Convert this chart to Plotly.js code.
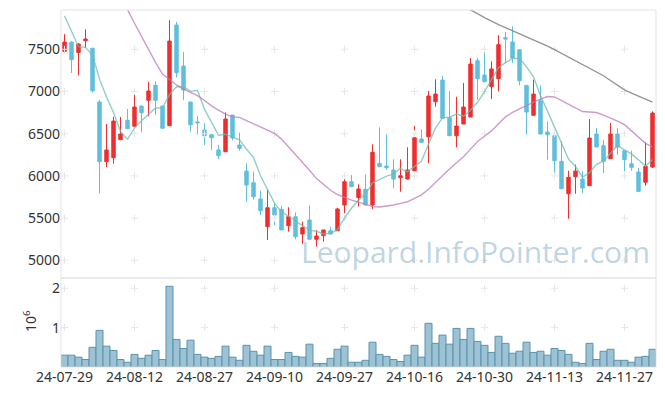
<!DOCTYPE html>
<html>
<head>
<meta charset="utf-8">
<script src="https://cdn.plot.ly/plotly-3.0.1.min.js"></script>
<style>html,body{margin:0;padding:0;background:#fff;}#chart{width:665px;height:396px;}</style>
</head>
<body>
<div id="chart"></div>
<script>
// Trading days (categorical axis)
const dates = [
'2024-07-29','2024-07-30','2024-07-31','2024-08-01','2024-08-02','2024-08-05','2024-08-06','2024-08-07','2024-08-08','2024-08-09',
'2024-08-12','2024-08-13','2024-08-14','2024-08-16','2024-08-19','2024-08-20','2024-08-21','2024-08-22','2024-08-23','2024-08-26',
'2024-08-27','2024-08-28','2024-08-29','2024-08-30','2024-09-02','2024-09-03','2024-09-04','2024-09-05','2024-09-06','2024-09-09',
'2024-09-10','2024-09-11','2024-09-12','2024-09-13','2024-09-19','2024-09-20','2024-09-23','2024-09-24','2024-09-25','2024-09-26',
'2024-09-27','2024-09-30','2024-10-02','2024-10-04','2024-10-07','2024-10-08','2024-10-10','2024-10-11','2024-10-14','2024-10-15',
'2024-10-16','2024-10-17','2024-10-18','2024-10-21','2024-10-22','2024-10-23','2024-10-24','2024-10-25','2024-10-28','2024-10-29',
'2024-10-30','2024-10-31','2024-11-01','2024-11-04','2024-11-05','2024-11-06','2024-11-07','2024-11-08','2024-11-11','2024-11-12',
'2024-11-13','2024-11-14','2024-11-15','2024-11-18','2024-11-19','2024-11-20','2024-11-21','2024-11-22','2024-11-25','2024-11-26',
'2024-11-27','2024-11-28','2024-11-29','2024-12-02','2024-12-03'];

const open = [
7476,7586,7462,7602,7512,6876,6168,6215,6429,6659,
6588,6828,6896,7073,6828,6595,7788,7302,6876,6640,
6544,6488,6307,6287,6721,6366,6058,5919,5726,5398,
5623,5604,5410,5516,5311,5477,5249,5291,5350,5350,
5655,5931,5744,5841,5655,6149,6117,6070,5979,5963,
6061,6437,6464,6879,7136,6690,6476,6615,6698,7365,
7195,7057,7152,7637,7587,7495,7073,6718,6891,6520,
6476,6173,5789,5990,5963,5884,6496,6358,6204,6496,
6298,6144,6046,5924,6105];
const high = [
7680,7590,7570,7737,7520,6900,6615,6700,6698,6793,
6994,6830,7113,7121,6828,7847,7823,7468,6876,6710,
6623,6490,6366,6753,6721,6512,6149,6050,5824,5833,
5675,5643,5628,5568,5457,5651,5359,5359,5398,5623,
5999,6010,5900,6019,6374,6576,6493,6196,6196,6339,
6591,6552,7006,7145,7184,7006,6938,7101,7397,7397,
7543,7358,7666,7705,7773,7495,7073,7140,7073,6647,
6476,6410,6061,6133,6054,6674,6567,6422,6627,6567,
6298,6298,6093,6398,6765];
const low = [
7455,7219,7190,7515,6988,5794,6102,6144,6429,6559,
6588,6516,6706,6725,6564,6595,7168,6899,6524,6493,
6366,6307,6200,6280,6422,6298,5694,5722,5536,5240,
5418,5359,5339,5249,5193,5249,5161,5220,5311,5350,
5557,5872,5637,5655,5604,6109,6070,5853,5813,5960,
6061,6398,6149,6820,6682,6476,6339,6615,6698,6903,
7116,6911,7002,7338,7338,7073,6488,6718,6496,6192,
6007,5848,5493,5789,5797,5880,6342,6034,6204,6251,
6054,6061,5809,5884,6093];
const close = [
7586,7377,7563,7622,7009,6168,6307,6650,6496,6559,
6816,6749,7006,6896,6564,7598,7223,7018,6606,6630,
6476,6452,6239,6674,6449,6327,5892,5753,5587,5623,
5536,5359,5516,5279,5386,5249,5288,5359,5311,5608,
5931,5872,5845,5655,6279,6109,6097,5963,6002,6070,
6452,6398,6947,6970,6682,6476,6591,6816,7326,7152,
7116,7267,7555,7622,7397,7128,6757,6970,6496,6488,
6180,5848,5983,6057,5856,6449,6342,6173,6496,6342,
6192,6102,5817,6113,6745];

const volume = [
300000,300000,250000,190000,500000,930000,530000,420000,190000,120000,
320000,220000,300000,420000,190000,2050000,700000,470000,680000,320000,
250000,220000,270000,530000,250000,170000,550000,400000,300000,530000,
190000,190000,370000,270000,250000,580000,90000,90000,220000,450000,
530000,120000,120000,170000,630000,320000,270000,190000,140000,300000,
550000,250000,1110000,600000,810000,580000,980000,700000,980000,650000,
550000,370000,780000,600000,350000,400000,630000,370000,400000,300000,
470000,420000,320000,120000,90000,600000,190000,400000,450000,170000,
170000,120000,250000,270000,450000];

// Moving averages
const ma5 = [
7898,7709,7531,7524,7431,7148,6934,6751,6526,6436,
6566,6654,6725,6805,6806,6963,7057,7060,7002,7015,
6791,6636,6481,6494,6458,6428,6316,6219,6002,5836,
5678,5572,5524,5463,5415,5358,5344,5312,5319,5363,
5499,5616,5713,5782,5916,5952,5997,6021,6090,6048,
6117,6177,6374,6567,6690,6695,6733,6707,6778,6872,
7000,7135,7283,7342,7391,7394,7292,7175,6950,6768,
6578,6396,6199,6111,5985,6039,6137,6175,6263,6360,
6309,6261,6190,6113,6194];
const ma20 = [
null,null,null,null,null,null,null,null,8090,7970,
7809,7650,7498,7345,7206,7142,7078,7028,6989,6950,
6894,6830,6780,6731,6699,6694,6656,6617,6586,6545,
6503,6436,6347,6258,6167,6067,5968,5897,5830,5779,
5745,5712,5690,5663,5636,5631,5640,5655,5674,5693,
5734,5776,5842,5925,6007,6082,6155,6227,6317,6407,
6470,6533,6617,6700,6753,6795,6835,6873,6910,6941,
6935,6893,6846,6801,6763,6757,6751,6721,6689,6648,
6607,6533,6462,6386,6345];
const ma60 = [
null,null,null,null,null,null,null,null,null,null,
null,null,null,null,null,null,null,null,null,null,
null,null,null,null,null,null,null,null,null,null,
null,null,null,null,null,null,null,null,null,null,
null,null,null,null,null,null,null,null,null,null,
null,null,null,null,null,null,null,8010,7970,7923,
7876,7829,7792,7756,7721,7681,7642,7607,7573,7537,
7495,7451,7404,7358,7312,7270,7232,7187,7131,7076,
7020,6982,6943,6909,6873];

const tickDates = ['2024-07-29','2024-08-12','2024-08-27','2024-09-10','2024-09-27','2024-10-16','2024-10-30','2024-11-13','2024-11-27'];
const tickLabels = ['24-07-29','24-08-12','24-08-27','24-09-10','24-09-27','24-10-16','24-10-30','24-11-13','24-11-27'];
const priceTicks = [5000,5500,6000,6500,7000,7500];
const volTicks = [1,2];
const volTickLabels = ['1','2'];

const FONT = 'Noto Sans, Open Sans, DejaVu Sans, sans-serif';
const TXT = '#333333';

// grid "+" marks at tick intersections
const gx = [], gy = [], gx2 = [], gy2 = [];
tickDates.forEach(d => {
  priceTicks.forEach(p => { gx.push(d); gy.push(p); });
  volTicks.forEach(v => { gx2.push(d); gy2.push(v); });
});

const traces = [
  {type:'scatter', mode:'markers', x:gx, y:gy, xaxis:'x', yaxis:'y', hoverinfo:'skip', showlegend:false,
   marker:{symbol:'cross-thin', size:5, line:{color:'#e6e6e6', width:1}}},
  {type:'scatter', mode:'markers', x:gx2, y:gy2, xaxis:'x', yaxis:'y2', hoverinfo:'skip', showlegend:false,
   marker:{symbol:'cross-thin', size:5, line:{color:'#e6e6e6', width:1}}},
  {type:'candlestick', x:dates, open:open, high:high, low:low, close:close, xaxis:'x', yaxis:'y', showlegend:false,
   increasing:{line:{color:'#ee2f2f', width:1}, fillcolor:'#ee2f2f'},
   decreasing:{line:{color:'#5fbfdc', width:1}, fillcolor:'#5fbfdc'},
   whiskerwidth:0},
  {type:'scatter', mode:'lines', x:dates, y:ma5, xaxis:'x', yaxis:'y', showlegend:false, hoverinfo:'skip',
   line:{color:'rgba(110,190,178,0.75)', width:1.4}},
  {type:'scatter', mode:'lines', x:dates, y:ma20, xaxis:'x', yaxis:'y', showlegend:false, hoverinfo:'skip',
   line:{color:'rgba(190,120,185,0.75)', width:1.4}},
  {type:'scatter', mode:'lines', x:dates, y:ma60, xaxis:'x', yaxis:'y', showlegend:false, hoverinfo:'skip',
   line:{color:'rgba(130,130,130,0.85)', width:1.4}},
  {type:'bar', x:dates, y:volume.map(v => v/1e6), xaxis:'x', yaxis:'y2', showlegend:false,
   marker:{color:'#9cc2d3', line:{color:'#5b93ad', width:1}}}
];

const layout = {
  width:665, height:396,
  margin:{l:61, r:9, t:10, b:29},
  paper_bgcolor:'#ffffff', plot_bgcolor:'#ffffff',
  font:{family:FONT, size:14, color:TXT},
  bargap:0,
  showlegend:false,
  xaxis:{type:'category', categoryorder:'array', categoryarray:dates, range:[-0.5, 84.5],
    anchor:'y2', tickvals:tickDates, ticktext:tickLabels, tickangle:0,
    showgrid:false, zeroline:false, showline:false, ticks:'', rangeslider:{visible:false},
    tickfont:{family:FONT, size:14, color:TXT}},
  yaxis:{domain:[0.2493, 1], range:[4790, 7966], tickvals:priceTicks, showgrid:false, zeroline:false,
    showline:false, ticks:'', tickfont:{family:FONT, size:14, color:TXT}},
  yaxis2:{domain:[0, 0.2493], range:[0, 2.26], tickvals:volTicks, ticktext:volTickLabels, showgrid:false, zeroline:false,
    showline:false, ticks:'', tickfont:{family:FONT, size:14, color:TXT}},
  shapes:[
    {type:'rect', xref:'paper', x0:0, x1:1, yref:'y domain', y0:0, y1:1, line:{color:'#e3e3e3', width:1}, layer:'above'},
    {type:'rect', xref:'paper', x0:0, x1:1, yref:'y2 domain', y0:0, y1:1, line:{color:'#e3e3e3', width:1}, layer:'above'}
  ],
  annotations:[
    {text:'Leopard.InfoPointer.com', xref:'paper', yref:'paper', x:0.696, y:0.323, xanchor:'center', yanchor:'middle',
     showarrow:false, font:{family:'Open Sans, Noto Sans, sans-serif', size:30, color:'rgba(150,185,208,0.6)'}},
    {text:'10<sup>6</sup>', xref:'paper', yref:'paper', x:-0.052, y:0.129, xanchor:'center', yanchor:'middle',
     textangle:-90, showarrow:false, font:{family:FONT, size:14, color:TXT}}
  ]
};

Plotly.newPlot('chart', traces, layout, {staticPlot:true, displayModeBar:false});
</script>
</body>
</html>
